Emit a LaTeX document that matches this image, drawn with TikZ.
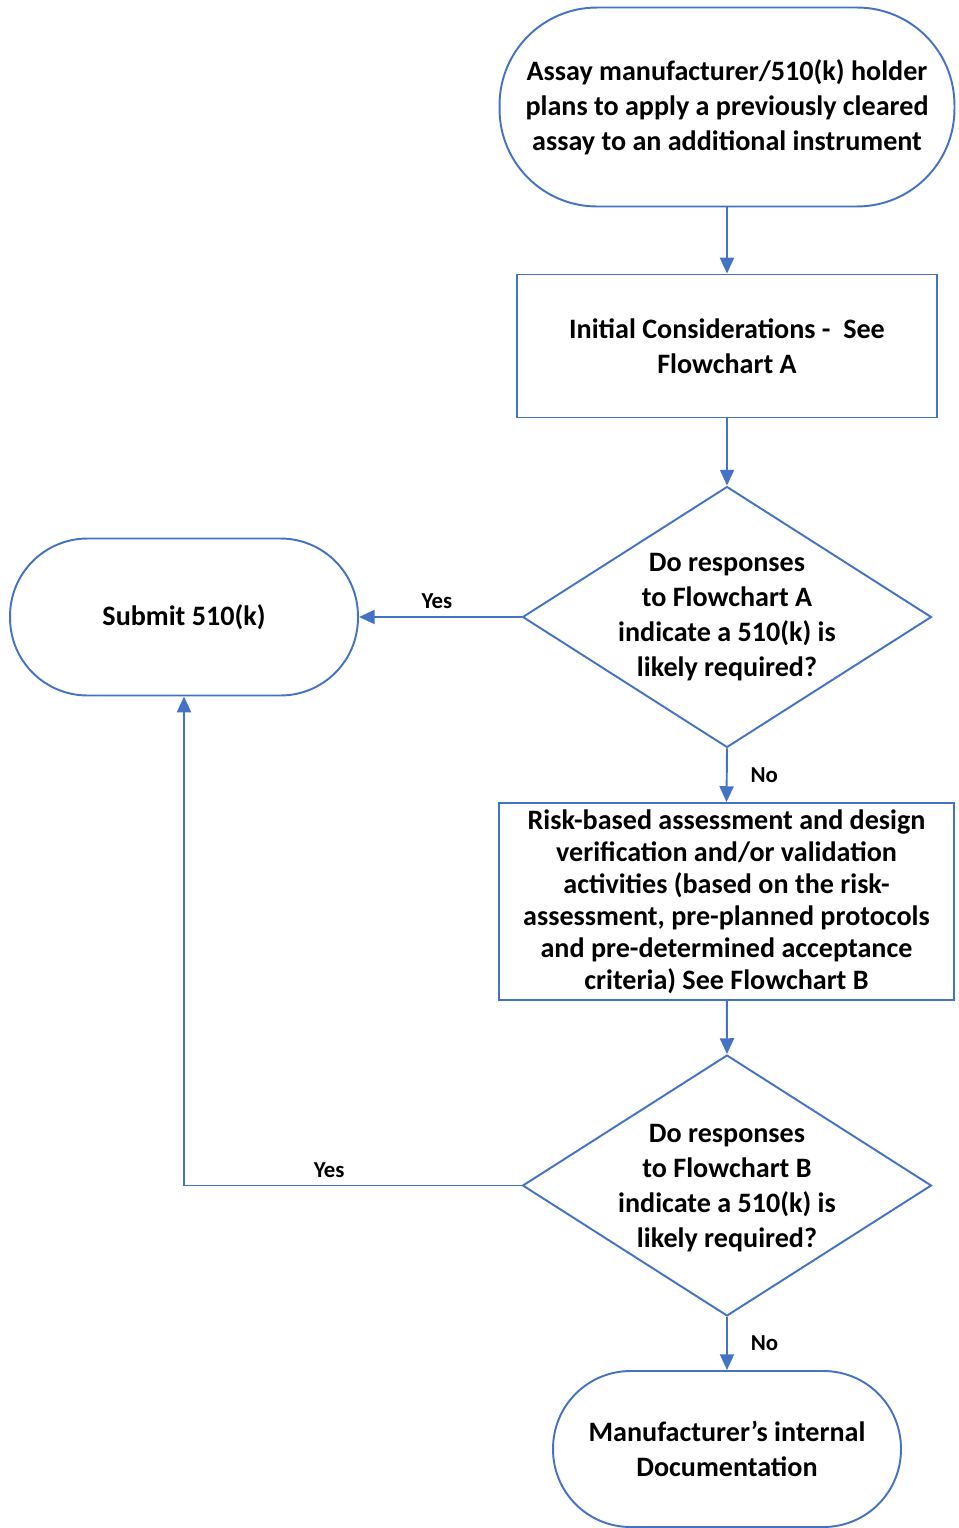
\documentclass[tikz,border=0pt]{standalone}
\usepackage{fontspec}
\setmainfont{Carlito}
\usetikzlibrary{shapes.geometric,arrows.meta}
\definecolor{fcblue}{HTML}{4472C4}
\begin{document}
\begin{tikzpicture}[x=0.02cm,y=-0.02cm,
  every node/.style={font=\fontsize{16}{20}\selectfont\bfseries},
  outline/.style={draw=fcblue,line width=1.1pt},
  term/.style={outline,rectangle,align=center,inner sep=0pt},
  procbox/.style={outline,rectangle,align=center,inner sep=0pt},
  dia/.style={outline,diamond,inner sep=0pt,minimum width=8.18cm,minimum height=5.22cm},
  dtext/.style={align=center,inner sep=0pt},
  lbl/.style={font=\fontsize{13}{14}\selectfont\bfseries,inner sep=1pt},
  conn/.style={draw=fcblue,line width=1.1pt,-{Triangle[length=9pt,width=8pt]}}]
\useasboundingbox (0,0) rectangle (959,1528);

\node[term,rounded corners=1.95cm,minimum width=9.1cm,minimum height=3.98cm] (start) at (727,107)
  {Assay manufacturer/510(k) holder\\plans to apply a previously cleared\\assay to an additional instrument};
\node[procbox,minimum width=8.4cm,minimum height=2.86cm] (init) at (727,346)
  {Initial Considerations -\ \ See\\Flowchart A};
\node[dia] (d1) at (727,617) {};
\node[dtext] (d1t) at (727,617) {Do responses\\to Flowchart A\\indicate a 510(k) is\\likely required?};
\node[term,rounded corners=1.55cm,minimum width=6.96cm,minimum height=3.14cm] (submit) at (184,617)
  {Submit 510(k)};
\node[procbox,minimum width=9.1cm,minimum height=3.94cm,font=\fontsize{16}{18.2}\selectfont\bfseries] (risk) at (726.5,901.5)
  {Risk-based assessment and design\\verification and/or validation\\activities (based on the risk-\\assessment, pre-planned protocols\\and pre-determined acceptance\\criteria) See Flowchart B};
\node[dia] (d2) at (727,1185.5) {};
\node[dtext] (d2t) at (727,1188) {Do responses\\to Flowchart B\\indicate a 510(k) is\\likely required?};
\node[term,rounded corners=1.55cm,minimum width=6.96cm,minimum height=3.12cm] (doc) at (727,1449)
  {Manufacturer’s internal\\Documentation};

\coordinate (corner) at (184,1185.5);

\draw[conn] (start) -- (init);
\draw[conn] (init) -- (d1.north);
\draw[conn] (d1.west) -- node[lbl,above,pos=0.52,yshift=3pt] (y1) {Yes} (submit.east);
\draw[conn] (d1.south) -- node[lbl,right,xshift=12pt] (n1) {No} (risk.north);
\draw[conn] (risk) -- (d2.north);
\draw[conn] (d2.west) -- node[lbl,above,pos=0.57,yshift=3pt] (y2) {Yes} (corner) -- (submit.south);
\draw[conn] (d2.south) -- node[lbl,right,xshift=12pt] (n2) {No} (doc.north);
\end{tikzpicture}
\end{document}
